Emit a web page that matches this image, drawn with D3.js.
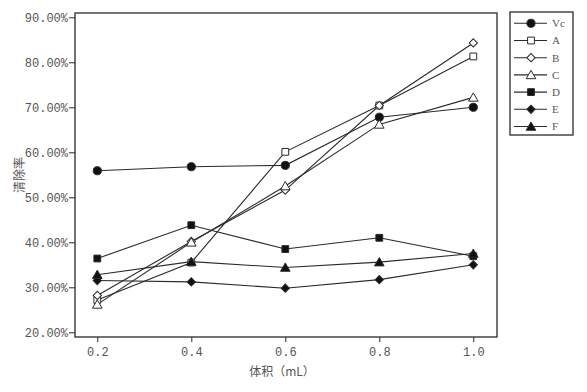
<!DOCTYPE html>
<html><head><meta charset="utf-8">
<script src="https://cdn.jsdelivr.net/npm/d3@7"></script>
<style>
body{margin:0;background:#fff;}
svg{display:block;}
</style></head>
<body>
<svg id="chart" width="587" height="392"></svg>
<script>
const volumes = [0.2, 0.4, 0.6, 0.8, 1.0];
const xTickLabels = ["0.2", "0.4", "0.6", "0.8", "1.0"];
const yTicks = [20, 30, 40, 50, 60, 70, 80, 90];
const seriesNames = ["Vc", "A", "B", "C", "D", "E", "F"];
const Vc = [55.9, 56.8, 57.1, 67.8, 70.0];
const A  = [27.2, 35.5, 60.1, 70.4, 81.3];
const B  = [28.2, 40.2, 51.6, 70.4, 84.3];
const C  = [26.2, 40.0, 52.5, 66.2, 72.2];
const D  = [36.4, 43.8, 38.5, 41.0, 36.9];
const E  = [31.5, 31.2, 29.8, 31.7, 35.0];
const F  = [32.8, 35.7, 34.4, 35.6, 37.5];
const seriesValues = [Vc, A, B, C, D, E, F];
const markerShapes = ["circle", "square", "diamond", "triangle", "square", "diamond", "triangle"];
const markerFilled = [true, false, false, false, true, true, true];
const xLabel = "体积（mL）";
const yLabel = "清除率";

const svg = d3.select("#chart");
const ink = "#2a2a2a";
const textCol = "#555";
const numFont = "'Liberation Mono', monospace";

const x = d3.scaleLinear().domain([0.2, 1.0]).range([97.3, 473.3]);
const y = d3.scaleLinear().domain([20, 90]).range([332.3, 17.3]);

const box = {l: 75, t: 13, r: 497, b: 337};
svg.append("rect").attr("x", box.l).attr("y", box.t)
  .attr("width", box.r - box.l).attr("height", box.b - box.t)
  .attr("fill", "none").attr("stroke", ink).attr("stroke-width", 1.3);

// y axis
const yAxis = svg.append("g").attr("transform", `translate(${box.l},0)`)
  .call(d3.axisLeft(y).tickValues(yTicks).tickSize(6).tickSizeOuter(0)
    .tickFormat(d => d.toFixed(2) + "%"));
yAxis.select(".domain").remove();
yAxis.selectAll("line").attr("stroke", ink);
yAxis.selectAll("text").attr("font-family", numFont).attr("font-size", 12)
  .attr("fill", textCol).attr("x", -7);

// x axis
const xAxis = svg.append("g").attr("transform", `translate(0,${box.b})`)
  .call(d3.axisBottom(x).tickValues(volumes).tickSize(5).tickSizeOuter(0)
    .tickFormat((d, i) => xTickLabels[i]));
xAxis.select(".domain").remove();
xAxis.selectAll("line").attr("stroke", ink);
xAxis.selectAll("text").attr("font-family", numFont).attr("font-size", 12)
  .attr("fill", textCol).attr("y", 10);

svg.append("text").attr("x", 282).attr("y", 376).attr("text-anchor", "middle")
  .attr("font-family", "'Noto Sans CJK SC', sans-serif").attr("font-size", 12)
  .attr("fill", textCol).text(xLabel);
svg.append("text").attr("transform", "translate(24,175) rotate(-90)")
  .attr("text-anchor", "middle")
  .attr("font-family", "'Noto Sans CJK SC', sans-serif").attr("font-size", 12)
  .attr("fill", textCol).text(yLabel);

const symType = {circle: d3.symbolCircle, square: d3.symbolSquare, diamond: d3.symbolSquare, triangle: d3.symbolTriangle};
const symSize = {circle: 52, square: 46, diamond: 34, triangle: 40};
const sym = s => d3.symbol().type(symType[s]).size(symSize[s])();
const symTransform = (s, cx, cy) => {
  if (s === "triangle") return `translate(${cx},${cy + 1})`;
  if (s === "diamond") return `translate(${cx},${cy}) rotate(45)`;
  return `translate(${cx},${cy})`;
};

const line = d3.line().x((d, i) => x(volumes[i])).y(d => y(d));
seriesValues.forEach((vals, si) => {
  svg.append("path").attr("d", line(vals)).attr("fill", "none")
    .attr("stroke", ink).attr("stroke-width", 1.1);
});
seriesValues.forEach((vals, si) => {
  svg.selectAll(null).data(vals).enter().append("path")
    .attr("d", sym(markerShapes[si]))
    .attr("transform", (d, i) => symTransform(markerShapes[si], x(volumes[i]), y(d)))
    .attr("fill", markerFilled[si] ? "#111" : "#fff")
    .attr("stroke", ink).attr("stroke-width", 1);
});

// legend
const lg = svg.append("g");
lg.append("rect").attr("x", 510).attr("y", 12).attr("width", 63).attr("height", 123)
  .attr("fill", "#fff").attr("stroke", ink).attr("stroke-width", 1.3);
seriesNames.forEach((name, i) => {
  const yy = 23.3 + i * 17.2;
  lg.append("line").attr("x1", 514).attr("x2", 547).attr("y1", yy).attr("y2", yy)
    .attr("stroke", ink).attr("stroke-width", 1.1);
  lg.append("path").attr("d", sym(markerShapes[i]))
    .attr("transform", symTransform(markerShapes[i], 531, yy))
    .attr("fill", markerFilled[i] ? "#111" : "#fff").attr("stroke", ink).attr("stroke-width", 1);
  lg.append("text").attr("x", 552).attr("y", yy).attr("dy", "0.35em")
    .attr("font-family", "'Liberation Serif', serif").attr("font-size", 11)
    .attr("fill", textCol).text(name);
});
</script>
</body></html>
